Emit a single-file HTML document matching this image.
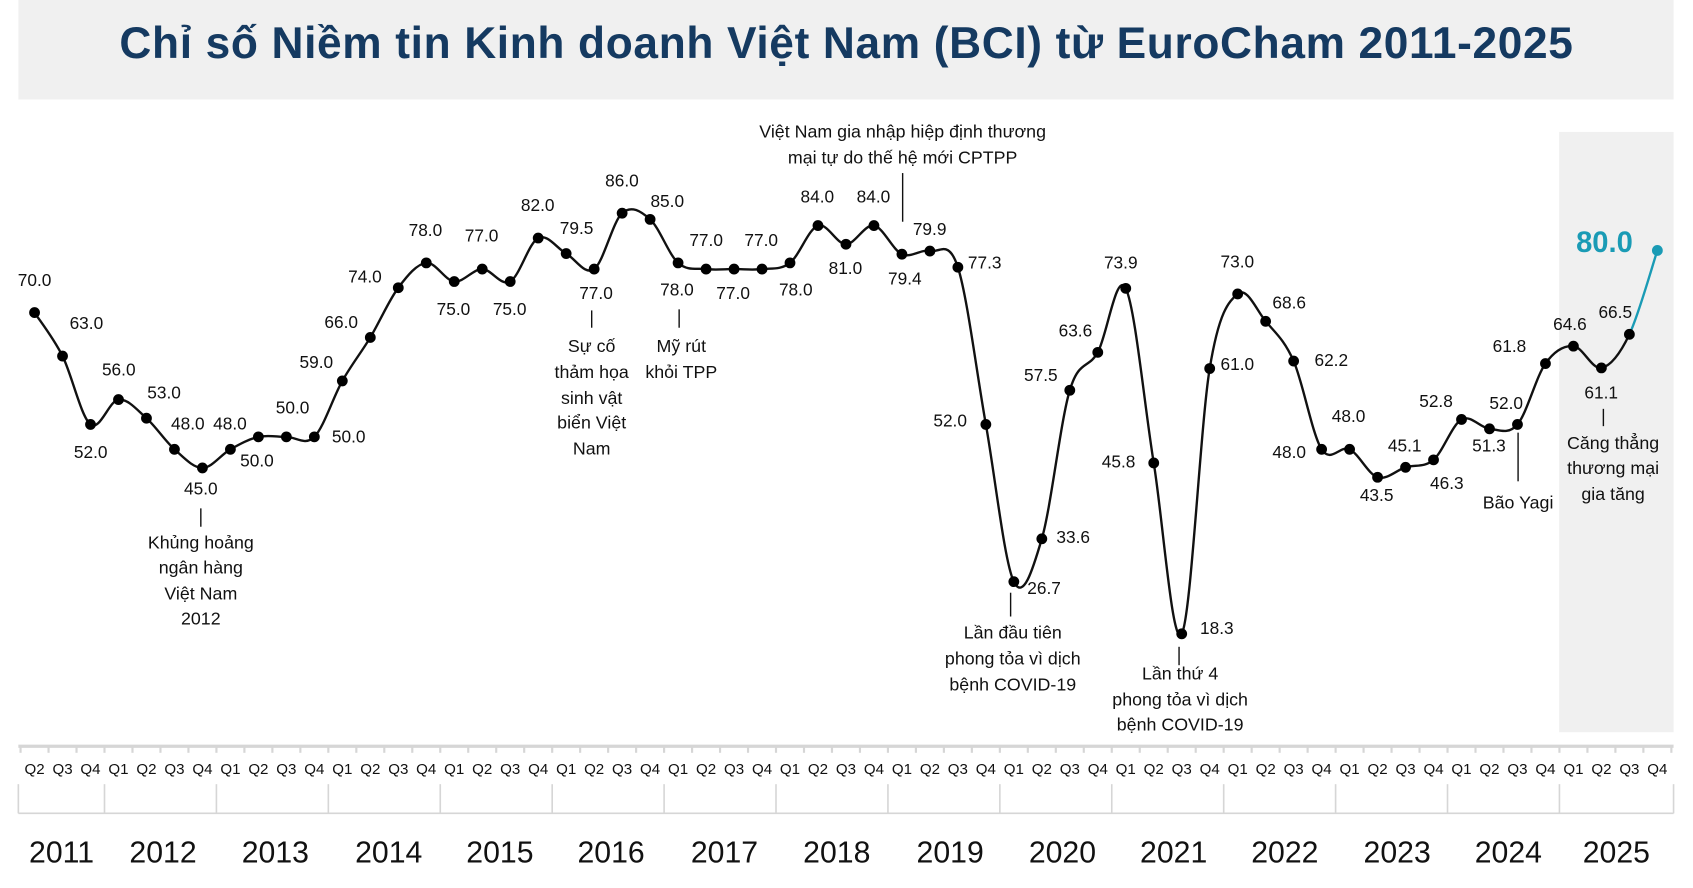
<!DOCTYPE html>
<html><head><meta charset="utf-8"><style>
html,body{margin:0;padding:0;background:#fff;}
svg{display:block}
text{font-family:"Liberation Sans",sans-serif;fill:#111}
.v{font-size:16px;text-anchor:middle;dominant-baseline:middle}
.a{font-size:16.5px;text-anchor:middle;dominant-baseline:middle}
.q{font-size:14px;text-anchor:middle;dominant-baseline:middle}
.y{font-size:28px;text-anchor:middle;dominant-baseline:middle}
</style></head><body>
<svg id="s" width="1693" height="888" viewBox="0 0 1568 821" preserveAspectRatio="none" xmlns="http://www.w3.org/2000/svg">
<rect x="17" y="0" width="1533" height="92" fill="#f0f0f0"/>
<text x="784" y="43" style="font-size:41px;letter-spacing:0.6px;font-weight:bold;fill:#153a61;text-anchor:middle;dominant-baseline:middle">Chỉ số Niềm tin Kinh doanh Việt Nam (BCI) từ EuroCham 2011-2025</text>
<rect x="1444" y="122" width="106" height="555" fill="#f0f0f0"/>
<g id="axis"></g>
<g id="curve"></g>
<g>
<text class="v" x="32" y="260">70.0</text><text class="v" x="80" y="300">63.0</text><text class="v" x="84" y="419">52.0</text><text class="v" x="110" y="343">56.0</text><text class="v" x="152" y="364">53.0</text><text class="v" x="174" y="393">48.0</text><text class="v" x="186" y="453">45.0</text><text class="v" x="213" y="393">48.0</text><text class="v" x="238" y="427">50.0</text><text class="v" x="271" y="378">50.0</text><text class="v" x="323" y="405">50.0</text><text class="v" x="293" y="336">59.0</text><text class="v" x="316" y="299">66.0</text><text class="v" x="338" y="257">74.0</text><text class="v" x="394" y="214">78.0</text><text class="v" x="420" y="287">75.0</text><text class="v" x="446" y="219">77.0</text><text class="v" x="472" y="287">75.0</text><text class="v" x="498" y="191">82.0</text><text class="v" x="534" y="212">79.5</text><text class="v" x="552" y="272">77.0</text><text class="v" x="576" y="168">86.0</text><text class="v" x="618" y="187">85.0</text><text class="v" x="627" y="269">78.0</text><text class="v" x="654" y="223">77.0</text><text class="v" x="679" y="272">77.0</text><text class="v" x="705" y="223">77.0</text><text class="v" x="737" y="269">78.0</text><text class="v" x="757" y="183">84.0</text><text class="v" x="783" y="249">81.0</text><text class="v" x="809" y="183">84.0</text><text class="v" x="838" y="259">79.4</text><text class="v" x="861" y="213">79.9</text><text class="v" x="912" y="244">77.3</text><text class="v" x="880" y="390">52.0</text><text class="v" x="967" y="545">26.7</text><text class="v" x="994" y="498">33.6</text><text class="v" x="964" y="348">57.5</text><text class="v" x="996" y="307">63.6</text><text class="v" x="1038" y="244">73.9</text><text class="v" x="1036" y="428">45.8</text><text class="v" x="1127" y="582">18.3</text><text class="v" x="1146" y="338">61.0</text><text class="v" x="1146" y="243">73.0</text><text class="v" x="1194" y="281">68.6</text><text class="v" x="1233" y="334">62.2</text><text class="v" x="1194" y="419">48.0</text><text class="v" x="1249" y="386">48.0</text><text class="v" x="1275" y="459">43.5</text><text class="v" x="1301" y="413">45.1</text><text class="v" x="1340" y="448">46.3</text><text class="v" x="1330" y="372">52.8</text><text class="v" x="1379" y="413">51.3</text><text class="v" x="1395" y="374">52.0</text><text class="v" x="1398" y="321">61.8</text><text class="v" x="1454" y="301">64.6</text><text class="v" x="1483" y="364">61.1</text><text class="v" x="1496" y="290">66.5</text>
<text x="1486" y="226" style="font-size:27px;font-weight:bold;fill:#1a9bb5;text-anchor:middle;dominant-baseline:middle">80.0</text>
</g>
<g stroke="#111" stroke-width="1.3">
<line x1="186" y1="470" x2="186" y2="487"/><line x1="548" y1="287" x2="548" y2="303"/><line x1="629" y1="286" x2="629" y2="303"/><line x1="836" y1="160" x2="836" y2="205"/><line x1="936" y1="548" x2="936" y2="570"/><line x1="1092" y1="598" x2="1092" y2="615"/><line x1="1406" y1="400" x2="1406" y2="445"/><line x1="1485" y1="378" x2="1485" y2="394"/>
</g>
<g>
<text class="a" x="186" y="503">Khủng hoảng</text><text class="a" x="186" y="526">ngân hàng</text><text class="a" x="186" y="550">Việt Nam</text><text class="a" x="186" y="573">2012</text>
<text class="a" x="548" y="321">Sự cố</text><text class="a" x="548" y="345">thảm họa</text><text class="a" x="548" y="369">sinh vật</text><text class="a" x="548" y="392">biển Việt</text><text class="a" x="548" y="416">Nam</text>
<text class="a" x="631" y="321">Mỹ rút</text><text class="a" x="631" y="345">khỏi TPP</text>
<text class="a" x="836" y="123">Việt Nam gia nhập hiệp định thương</text><text class="a" x="836" y="147">mại tự do thế hệ mới CPTPP</text>
<text class="a" x="938" y="586">Lần đầu tiên</text><text class="a" x="938" y="610">phong tỏa vì dịch</text><text class="a" x="938" y="634">bệnh COVID-19</text>
<text class="a" x="1093" y="624">Lần thứ 4</text><text class="a" x="1093" y="648">phong tỏa vì dịch</text><text class="a" x="1093" y="671">bệnh COVID-19</text>
<text class="a" x="1406" y="466">Bão Yagi</text>
<text class="a" x="1494" y="411">Căng thẳng</text><text class="a" x="1494" y="434">thương mại</text><text class="a" x="1494" y="458">gia tăng</text>
</g>
<g id="ql"></g>
<g>
<text class="y" x="57" y="790">2011</text><text class="y" x="151" y="790">2012</text><text class="y" x="255" y="790">2013</text><text class="y" x="360" y="790">2014</text><text class="y" x="463" y="790">2015</text><text class="y" x="566" y="790">2016</text><text class="y" x="671" y="790">2017</text><text class="y" x="775" y="790">2018</text><text class="y" x="880" y="790">2019</text><text class="y" x="984" y="790">2020</text><text class="y" x="1087" y="790">2021</text><text class="y" x="1190" y="790">2022</text><text class="y" x="1294" y="790">2023</text><text class="y" x="1397" y="790">2024</text><text class="y" x="1497" y="790">2025</text>
</g>
</svg>
<script>
var V=[70,63,52,56,53,48,45,48,50,50,50,59,66,74,78,75,77,75,82,79.5,77,86,85,78,77,77,77,78,84,81,84,79.4,79.9,77.3,52,26.7,33.6,57.5,63.6,73.9,45.8,18.3,61,73,68.6,62.2,48,48,43.5,45.1,46.3,52.8,51.3,52,61.8,64.6,61.1,66.5,80];
var NS="http://www.w3.org/2000/svg",x0=32,st=(1535-32)/58;
function X(i){return x0+i*st}function Y(v){return 289+(70-v)*5.745}
function el(t,a,p,txt){var e=document.createElementNS(NS,t);for(var k in a)e.setAttribute(k,a[k]);if(txt)e.textContent=txt;p.appendChild(e);return e}
var P=V.map(function(v,i){return[X(i),Y(v)]});
function seg(i){var p0=P[Math.max(i-1,0)],p1=P[i],p2=P[i+1],p3=P[Math.min(i+2,P.length-1)],t=6;
return " C"+(p1[0]+(p2[0]-p0[0])/t)+","+(p1[1]+(p2[1]-p0[1])/t)+" "+(p2[0]-(p3[0]-p1[0])/t)+","+(p2[1]-(p3[1]-p1[1])/t)+" "+p2[0]+","+p2[1]}
var d="M"+P[0][0]+","+P[0][1];for(var i=0;i<P.length-2;i++)d+=seg(i);
var c=document.getElementById("curve");
el("path",{d:d,fill:"none",stroke:"#111","stroke-width":2.2},c);
var n=P.length-2;el("path",{d:"M"+P[n][0]+","+P[n][1]+seg(n),fill:"none",stroke:"#1a9bb5","stroke-width":2.2},c);
for(var i=0;i<P.length-1;i++)el("circle",{cx:P[i][0],cy:P[i][1],r:5,fill:"#000"},c);
el("circle",{cx:P[n+1][0],cy:P[n+1][1],r:5,fill:"#1a9bb5"},c);
var a=document.getElementById("axis");
el("line",{x1:17,y1:690,x2:1550,y2:690,stroke:"#d6d6d6","stroke-width":3},a);
for(var i=-0.5;i<=58.6;i++){var x=X(i);if(x<17)x=18;if(x>1550)x=1549;el("line",{x1:x,y1:690,x2:x,y2:696,stroke:"#d6d6d6","stroke-width":2},a)}
el("line",{x1:17,y1:752,x2:1550,y2:752,stroke:"#d6d6d6","stroke-width":1.5},a);
var b=[17];for(var k=3;k<59;k+=4)b.push(X(k-0.5));b.push(1550);
b.forEach(function(x){el("line",{x1:x,y1:725,x2:x,y2:752,stroke:"#d6d6d6","stroke-width":1.5},a)});
var q=document.getElementById("ql");
for(var i=0;i<59;i++)el("text",{"class":"q",x:X(i),y:712},q,"Q"+((i+1)%4+1));
</script>
</body></html>
